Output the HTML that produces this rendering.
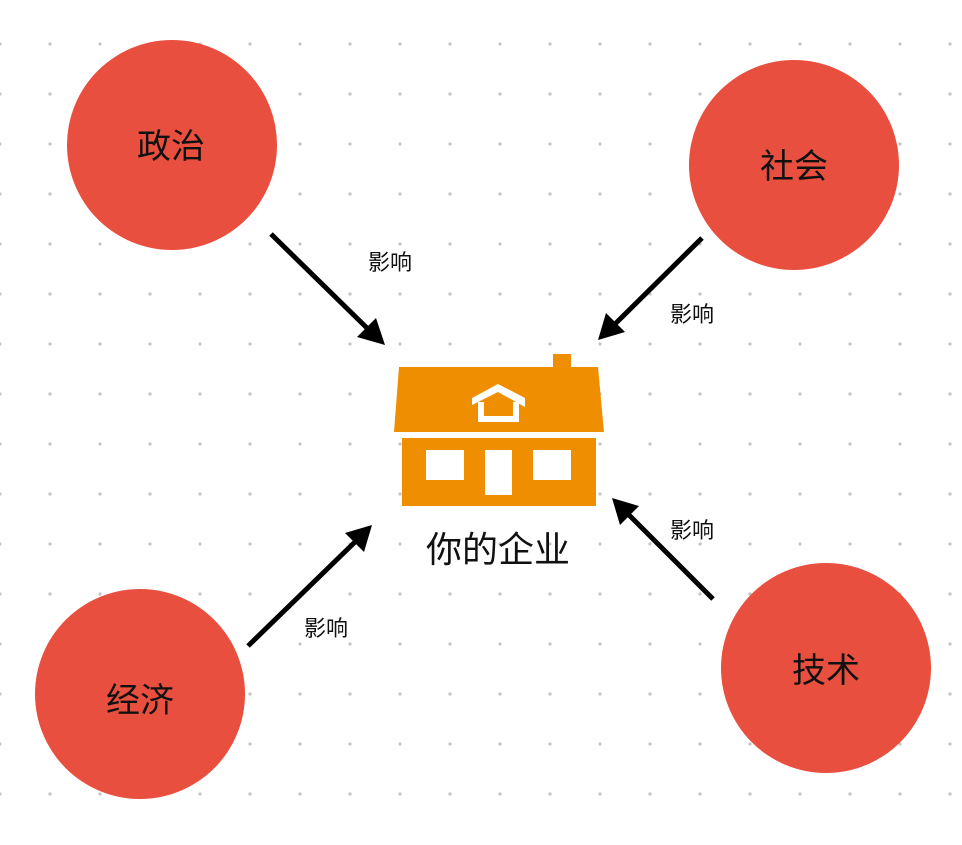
<!DOCTYPE html>
<html><head><meta charset="utf-8"><style>
body{margin:0;width:962px;height:840px;overflow:hidden;background:#fff;font-family:"Liberation Sans","Noto Sans CJK SC",sans-serif}
</style></head><body>
<svg width="962" height="840" xmlns="http://www.w3.org/2000/svg">
<defs>
<pattern id="g" x="0" y="44" width="50" height="50" patternUnits="userSpaceOnUse">
<circle cx="0" cy="0" r="1.6" fill="#c4c4c4"/><circle cx="50" cy="0" r="1.6" fill="#c4c4c4"/><circle cx="0" cy="50" r="1.6" fill="#c4c4c4"/><circle cx="50" cy="50" r="1.6" fill="#c4c4c4"/>
</pattern>
</defs>
<rect width="962" height="840" fill="url(#g)"/>
<g fill="#e94f3f">
<circle cx="172" cy="145" r="105"/><circle cx="794" cy="165" r="105"/>
<circle cx="140" cy="694" r="105"/><circle cx="826" cy="668" r="105"/>
</g>
<g font-family="Liberation Sans, Noto Sans CJK SC, sans-serif" font-size="34" text-anchor="middle" fill="#111">
<text x="171" y="158">政治</text><text x="794" y="178">社会</text>
<text x="140" y="712">经济</text><text x="826" y="682">技术</text>
</g>
<text x="498" y="562" font-family="Liberation Sans, Noto Sans CJK SC, sans-serif" font-size="36" text-anchor="middle" fill="#111">你的企业</text>
<g font-family="Liberation Sans, Noto Sans CJK SC, sans-serif" font-size="22" text-anchor="middle" fill="#111">
<text x="390" y="270">影响</text><text x="692" y="322">影响</text>
<text x="326" y="636">影响</text><text x="692" y="538">影响</text>
</g>
<g stroke="#000" stroke-width="5">
<line x1="271" y1="234" x2="368" y2="329"/>
<line x1="702" y1="238" x2="614" y2="325"/>
<line x1="248" y1="646" x2="356" y2="541"/>
<line x1="713" y1="599" x2="628" y2="514"/>
</g>
<g fill="#000">
<polygon points="385,345 357,337 376,318"/>
<polygon points="598,340 606,313 625,332"/>
<polygon points="372,525 364,552 345,533"/>
<polygon points="612,498 639,506 620,525"/>
</g>
<g fill="#ef8f00">
<rect x="553" y="354" width="18" height="14"/>
<polygon points="399,367 598,367 604,432 394,432"/>
<rect x="402" y="438" width="194" height="68"/>
</g>
<g fill="#fff">
<rect x="426" y="450" width="38" height="30"/>
<rect x="485" y="450" width="27" height="45"/>
<rect x="533" y="450" width="38" height="30"/>
<polygon points="472,398 498,384 525,398 525,407 498,392 472,405"/>
<path d="M478 402h6v14h29v-14h6v20h-41z"/>
</g>
</svg>
</body></html>
